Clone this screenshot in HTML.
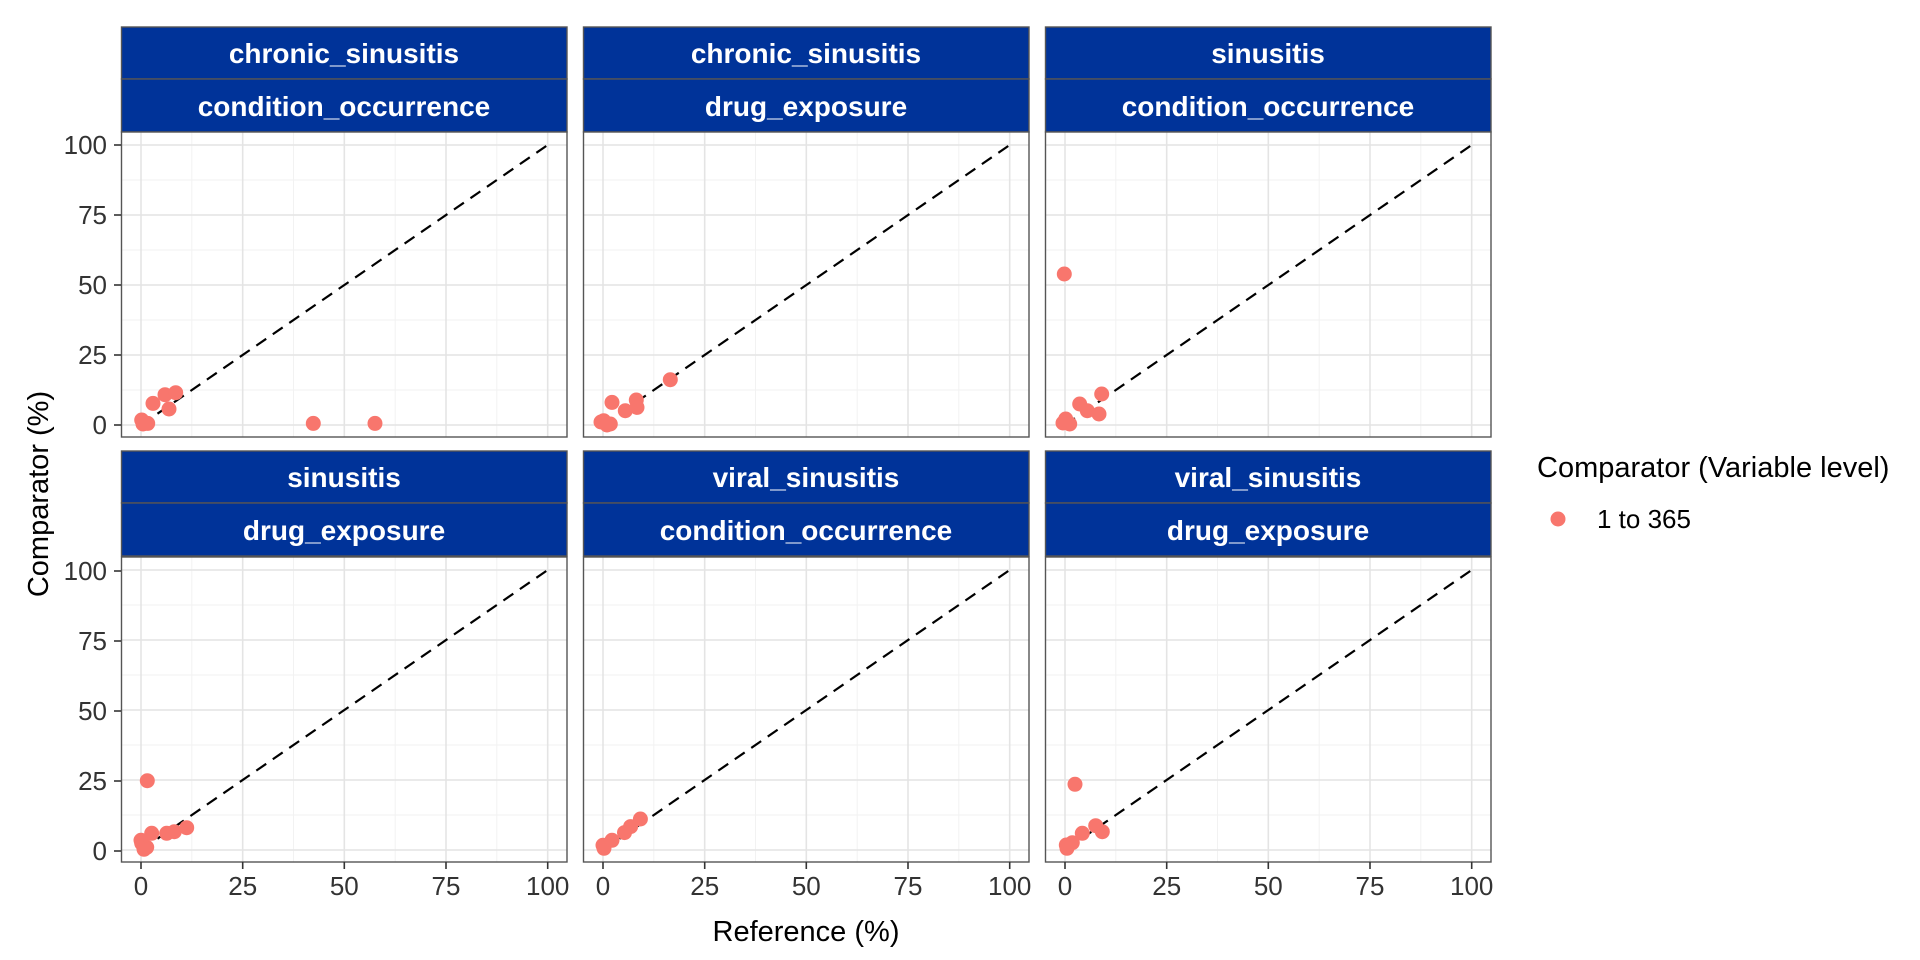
<!DOCTYPE html>
<html><head><meta charset="utf-8"><style>
html,body{margin:0;padding:0;background:#fff;}
svg{display:block;font-family:"Liberation Sans",sans-serif;}
.st{fill:#fff;font-weight:bold;font-size:28px;text-anchor:middle;}
.tk{fill:#333;font-size:26px;}
</style></head><body>
<svg width="1920" height="960" viewBox="0 0 1920 960" xmlns="http://www.w3.org/2000/svg">
<defs>
<g id="bg">
<rect x="0" y="0" width="446" height="305" fill="#fff"/>
<g stroke="#f2f2f2" stroke-width="1">
<line x1="70.8" y1="0" x2="70.8" y2="305"/><line x1="172.5" y1="0" x2="172.5" y2="305"/><line x1="274.2" y1="0" x2="274.2" y2="305"/><line x1="375.8" y1="0" x2="375.8" y2="305"/>
<line x1="0" y1="258" x2="446" y2="258"/><line x1="0" y1="188" x2="446" y2="188"/><line x1="0" y1="118" x2="446" y2="118"/><line x1="0" y1="48" x2="446" y2="48"/>
</g>
<g stroke="#e4e4e4" stroke-width="1.6">
<line x1="20" y1="0" x2="20" y2="305"/><line x1="121.7" y1="0" x2="121.7" y2="305"/><line x1="223.3" y1="0" x2="223.3" y2="305"/><line x1="325" y1="0" x2="325" y2="305"/><line x1="426.7" y1="0" x2="426.7" y2="305"/>
<line x1="0" y1="293" x2="446" y2="293"/><line x1="0" y1="223" x2="446" y2="223"/><line x1="0" y1="153" x2="446" y2="153"/><line x1="0" y1="83" x2="446" y2="83"/><line x1="0" y1="13" x2="446" y2="13"/>
</g>
<line x1="20" y1="293" x2="426.7" y2="13" stroke="#000" stroke-width="2.2" stroke-dasharray="12,8"/>
</g>
<g id="border"><rect x="0.5" y="0" width="445.5" height="305" fill="none" stroke="#555" stroke-width="1.4"/></g>
<g id="strip">
<rect x="0.5" y="0" width="445.5" height="52" fill="#003399" stroke="#555" stroke-width="1.4"/>
<rect x="0.5" y="52" width="445.5" height="53" fill="#003399" stroke="#555" stroke-width="1.4"/>
</g>
</defs>

<use href="#strip" x="121" y="27"/><use href="#strip" x="583" y="27"/><use href="#strip" x="1045" y="27"/>
<use href="#strip" x="121" y="451"/><use href="#strip" x="583" y="451"/><use href="#strip" x="1045" y="451"/>
<text class="st" x="344" y="63">chronic_sinusitis</text>
<text class="st" x="344" y="116">condition_occurrence</text>
<text class="st" x="806" y="63">chronic_sinusitis</text>
<text class="st" x="806" y="116">drug_exposure</text>
<text class="st" x="1268" y="63">sinusitis</text>
<text class="st" x="1268" y="116">condition_occurrence</text>
<text class="st" x="344" y="487">sinusitis</text>
<text class="st" x="344" y="540">drug_exposure</text>
<text class="st" x="806" y="487">viral_sinusitis</text>
<text class="st" x="806" y="540">condition_occurrence</text>
<text class="st" x="1268" y="487">viral_sinusitis</text>
<text class="st" x="1268" y="540">drug_exposure</text>

<g transform="translate(121,132)"><use href="#bg"/>
<g fill="#F8766D">
<circle cx="20.7" cy="288" r="7.5"/><circle cx="26.7" cy="291.4" r="7.5"/><circle cx="32" cy="271.4" r="7.5"/><circle cx="44" cy="262.7" r="7.5"/><circle cx="54.7" cy="260.7" r="7.5"/><circle cx="48" cy="277" r="7.5"/><circle cx="22" cy="292" r="7.5"/><circle cx="192.3" cy="291.4" r="7.5"/><circle cx="254" cy="291.4" r="7.5"/>
</g><use href="#border"/></g>
<g transform="translate(583,132)"><use href="#bg"/>
<g fill="#F8766D">
<circle cx="20.7" cy="288.7" r="7.5"/><circle cx="29" cy="270.4" r="7.5"/><circle cx="27.3" cy="292" r="7.5"/><circle cx="42.3" cy="278.7" r="7.5"/><circle cx="53.3" cy="268" r="7.5"/><circle cx="54" cy="275.4" r="7.5"/><circle cx="87.3" cy="247.7" r="7.5"/><circle cx="18" cy="290" r="7.5"/><circle cx="24" cy="293" r="7.5"/>
</g><use href="#border"/></g>
<g transform="translate(1045,132)"><use href="#bg"/>
<g fill="#F8766D">
<circle cx="19.3" cy="142" r="7.5"/><circle cx="20.7" cy="287" r="7.5"/><circle cx="24.7" cy="292" r="7.5"/><circle cx="34.7" cy="272" r="7.5"/><circle cx="42.3" cy="278.7" r="7.5"/><circle cx="54" cy="282" r="7.5"/><circle cx="56.7" cy="262" r="7.5"/><circle cx="18" cy="291" r="7.5"/>
</g><use href="#border"/></g>
<g transform="translate(121,556)"><use href="#bg" transform="translate(0,1)"/>
<g fill="#F8766D" transform="translate(0,1.3)">
<circle cx="26.3" cy="223.4" r="7.5"/><circle cx="20.7" cy="286" r="7.5"/><circle cx="25.7" cy="290" r="7.5"/><circle cx="30.7" cy="276" r="7.5"/><circle cx="45.7" cy="276" r="7.5"/><circle cx="53.3" cy="274.4" r="7.5"/><circle cx="65.7" cy="270.4" r="7.5"/><circle cx="20" cy="283" r="7.5"/><circle cx="23" cy="292" r="7.5"/>
</g><use href="#border" transform="translate(0,1)"/></g>
<g transform="translate(583,556)"><use href="#bg" transform="translate(0,1)"/>
<g fill="#F8766D" transform="translate(0,1.3)">
<circle cx="20" cy="288" r="7.5"/><circle cx="21" cy="291" r="7.5"/><circle cx="29" cy="283" r="7.5"/><circle cx="41.5" cy="275.3" r="7.5"/><circle cx="47.6" cy="269.3" r="7.5"/><circle cx="57.4" cy="261.7" r="7.5"/>
</g><use href="#border" transform="translate(0,1)"/></g>
<g transform="translate(1045,556)"><use href="#bg" transform="translate(0,1)"/>
<g fill="#F8766D" transform="translate(0,1.3)">
<circle cx="30" cy="227" r="7.5"/><circle cx="21.3" cy="287.7" r="7.5"/><circle cx="27.3" cy="285.4" r="7.5"/><circle cx="37.3" cy="276" r="7.5"/><circle cx="50.7" cy="268.4" r="7.5"/><circle cx="57.3" cy="274.4" r="7.5"/><circle cx="22" cy="291" r="7.5"/>
</g><use href="#border" transform="translate(0,1)"/></g>

<g stroke="#333" stroke-width="1.6">
<line x1="114" y1="425" x2="121" y2="425"/><line x1="114" y1="355" x2="121" y2="355"/><line x1="114" y1="285" x2="121" y2="285"/><line x1="114" y1="215" x2="121" y2="215"/><line x1="114" y1="145" x2="121" y2="145"/>
<line x1="114" y1="851" x2="121" y2="851"/><line x1="114" y1="781" x2="121" y2="781"/><line x1="114" y1="711" x2="121" y2="711"/><line x1="114" y1="641" x2="121" y2="641"/><line x1="114" y1="571" x2="121" y2="571"/>
</g>
<g class="tk" text-anchor="end">
<text x="107" y="434">0</text><text x="107" y="364">25</text><text x="107" y="294">50</text><text x="107" y="224">75</text><text x="107" y="154">100</text>
<text x="107" y="860">0</text><text x="107" y="790">25</text><text x="107" y="720">50</text><text x="107" y="650">75</text><text x="107" y="580">100</text>
</g>
<g stroke="#333" stroke-width="1.6">
<line x1="141" y1="862" x2="141" y2="869"/><line x1="242.7" y1="862" x2="242.7" y2="869"/><line x1="344.3" y1="862" x2="344.3" y2="869"/><line x1="446" y1="862" x2="446" y2="869"/><line x1="547.7" y1="862" x2="547.7" y2="869"/>
<line x1="603" y1="862" x2="603" y2="869"/><line x1="704.7" y1="862" x2="704.7" y2="869"/><line x1="806.3" y1="862" x2="806.3" y2="869"/><line x1="908" y1="862" x2="908" y2="869"/><line x1="1009.7" y1="862" x2="1009.7" y2="869"/>
<line x1="1065" y1="862" x2="1065" y2="869"/><line x1="1166.7" y1="862" x2="1166.7" y2="869"/><line x1="1268.3" y1="862" x2="1268.3" y2="869"/><line x1="1370" y1="862" x2="1370" y2="869"/><line x1="1471.7" y1="862" x2="1471.7" y2="869"/>
</g>
<g class="tk" text-anchor="middle">
<text x="141" y="895">0</text><text x="242.7" y="895">25</text><text x="344.3" y="895">50</text><text x="446" y="895">75</text><text x="547.7" y="895">100</text>
<text x="603" y="895">0</text><text x="704.7" y="895">25</text><text x="806.3" y="895">50</text><text x="908" y="895">75</text><text x="1009.7" y="895">100</text>
<text x="1065" y="895">0</text><text x="1166.7" y="895">25</text><text x="1268.3" y="895">50</text><text x="1370" y="895">75</text><text x="1471.7" y="895">100</text>
</g>
<text x="806" y="941" font-size="29" fill="#000" text-anchor="middle">Reference (%)</text>
<text transform="translate(48,494) rotate(-90)" font-size="29" fill="#000" text-anchor="middle">Comparator (%)</text>
<text x="1537" y="477" font-size="29" fill="#000">Comparator (Variable level)</text>
<circle cx="1558" cy="519" r="7.5" fill="#F8766D"/>
<text x="1597" y="528" font-size="26" fill="#000">1 to 365</text>
</svg>
</body></html>
